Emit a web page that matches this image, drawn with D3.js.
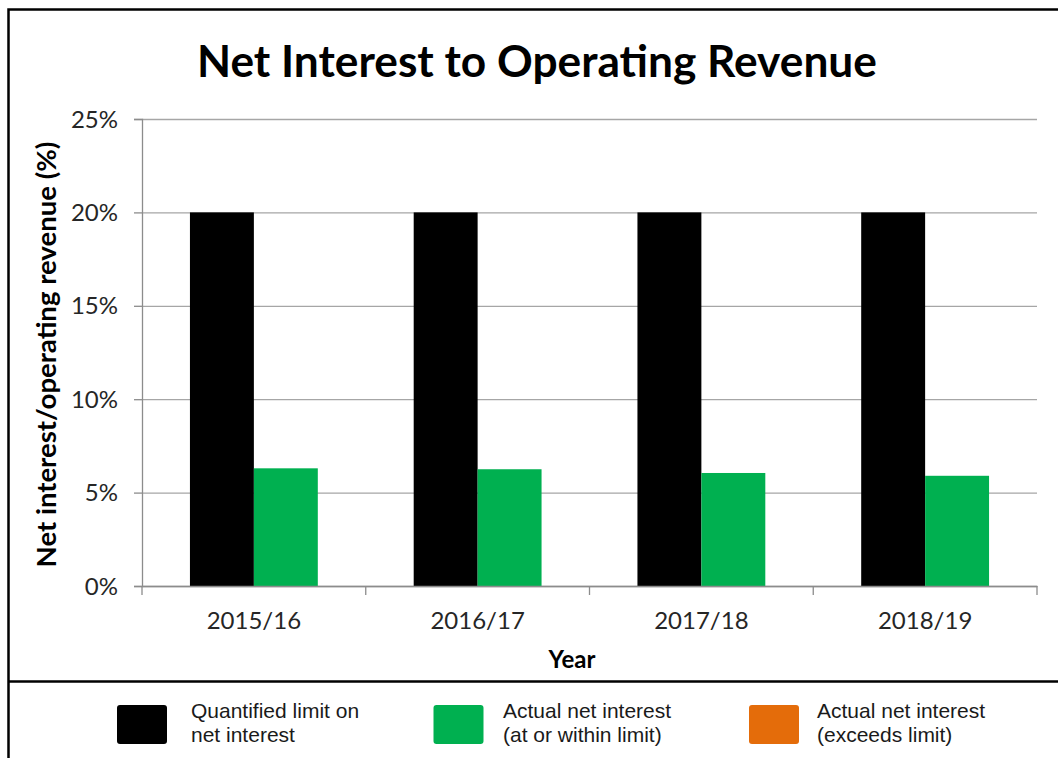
<!DOCTYPE html>
<html>
<head>
<meta charset="utf-8">
<script src="https://cdn.jsdelivr.net/npm/d3@7"></script>
<style>
  html, body { margin: 0; padding: 0; background: #fff; }
  svg { display: block; }
</style>
</head>
<body>
<svg id="chart" width="1058" height="758"></svg>
<script>
// ---- data ----
const categories = ["2015/16", "2016/17", "2017/18", "2018/19"];
const limitValues = [20, 20, 20, 20];
const actualValues = [6.3, 6.25, 6.05, 5.9];
const yTicks = [0, 5, 10, 15, 20, 25];
const legendLabels = [
  ["Quantified limit on", "net interest"],
  ["Actual net interest", "(at or within limit)"],
  ["Actual net interest", "(exceeds limit)"]
];
const legendColors = ["#000000", "#00B050", "#E46C0A"];
const titleText = "Net Interest to Operating Revenue";
const yTitle = "Net interest/operating revenue (%)";
const xTitle = "Year";

// ---- layout ----
const W = 1058, H = 758;
const plot = { left: 142, right: 1037, top: 119, bottom: 586 };
const svg = d3.select("#chart");
const calibri = "Lato, 'Open Sans', sans-serif";
const arial = "'Liberation Sans', Arial, sans-serif";

svg.append("rect").attr("width", W).attr("height", H).attr("fill", "#fff");

// scales
const x = d3.scaleBand().domain(categories).range([plot.left, plot.right]).paddingInner(0).paddingOuter(0);
const xs = d3.scaleBand().domain(["limit", "actual"]).range([0, x.bandwidth()]).paddingInner(0).paddingOuter(0.75);
const y = d3.scaleLinear().domain([0, 25]).range([plot.bottom, plot.top]);

// gridlines
const gridG = svg.append("g")
  .attr("transform", `translate(${plot.left},0)`)
  .call(d3.axisLeft(y).tickValues(yTicks).tickSize(-(plot.right - plot.left)).tickFormat(""));
gridG.select(".domain").remove();
gridG.selectAll(".tick line").attr("stroke", "#A6A6A6").attr("stroke-width", 1.3);

// bars
const rows = categories.map((c, i) => ({ cat: c, limit: limitValues[i], actual: actualValues[i] }));
const groups = svg.append("g").selectAll("g").data(rows).join("g")
  .attr("transform", d => `translate(${x(d.cat)},0)`);
groups.append("rect")
  .attr("x", xs("limit")).attr("width", xs.bandwidth())
  .attr("y", d => y(d.limit)).attr("height", d => y(0) - y(d.limit))
  .attr("fill", legendColors[0]);
groups.append("rect")
  .attr("x", xs("actual")).attr("width", xs.bandwidth())
  .attr("y", d => y(d.actual)).attr("height", d => y(0) - y(d.actual))
  .attr("fill", d => d.actual <= d.limit ? legendColors[1] : legendColors[2]);

// y axis
const yAxis = svg.append("g")
  .attr("transform", `translate(${plot.left},0)`)
  .call(d3.axisLeft(y).tickValues(yTicks).tickSize(8).tickPadding(16).tickFormat(d => d + "%"));
yAxis.select(".domain").attr("stroke", "#8C8C8C").attr("stroke-width", 1.3);
yAxis.selectAll(".tick line").attr("stroke", "#8C8C8C").attr("stroke-width", 1.3);
yAxis.selectAll(".tick text").attr("font-family", calibri).attr("font-size", 24).attr("fill", "#262626")
  .attr("dy", "0.34em");

// x axis
const xAxis = svg.append("g")
  .attr("transform", `translate(0,${plot.bottom})`)
  .call(d3.axisBottom(x).tickSize(0).tickPadding(26));
xAxis.select(".domain").attr("stroke", "#8C8C8C").attr("stroke-width", 1.3);
xAxis.selectAll(".tick text").attr("font-family", calibri).attr("font-size", 24).attr("fill", "#262626");
// category boundary ticks
const bounds = categories.map(c => x(c)).concat([x(categories[categories.length - 1]) + x.bandwidth()]);
xAxis.append("g").selectAll("line").data(bounds).join("line")
  .attr("x1", d => d).attr("x2", d => d).attr("y1", 0).attr("y2", 9)
  .attr("stroke", "#8C8C8C").attr("stroke-width", 1.3);

// fit helper
function fitText(sel, target) {
  const w = sel.node().getComputedTextLength();
  const fs = parseFloat(sel.attr("font-size"));
  sel.attr("font-size", fs * target / w);
}

// title
const t = svg.append("text").text(titleText)
  .attr("x", 537).attr("y", 77).attr("text-anchor", "middle")
  .attr("font-family", calibri).attr("font-weight", 700).attr("font-size", 44).attr("fill", "#000");
fitText(t, 680);

// y title
const yt = svg.append("text").text(yTitle)
  .attr("transform", `translate(56,${(plot.top + plot.bottom) / 2 + 2}) rotate(-90)`)
  .attr("text-anchor", "middle")
  .attr("font-family", calibri).attr("font-weight", 700).attr("font-size", 24).attr("fill", "#000");
fitText(yt, 426);

// x title
svg.append("text").text(xTitle)
  .attr("x", 572).attr("y", 668).attr("text-anchor", "middle")
  .attr("font-family", calibri).attr("font-weight", 700).attr("font-size", 24).attr("fill", "#000");

// frame
svg.append("path")
  .attr("d", `M8.5,${H} V9.5 H${W}`)
  .attr("fill", "none").attr("stroke", "#000").attr("stroke-width", 2.5);
svg.append("line").attr("x1", 8).attr("x2", W).attr("y1", 681.5).attr("y2", 681.5)
  .attr("stroke", "#000").attr("stroke-width", 2.5);

// legend
const legendSwatchX = [117, 433.5, 749];
const legendTextX = [191, 503, 817];
const leg = svg.append("g").selectAll("g").data(legendLabels).join("g")
  .attr("transform", (d, i) => `translate(0,705)`);
leg.append("rect").attr("x", (d, i) => legendSwatchX[i]).attr("width", 50).attr("height", 39).attr("rx", 3)
  .attr("fill", (d, i) => legendColors[i]);
leg.each(function (d, i) {
  d3.select(this).append("text").attr("y", 13)
    .attr("font-family", arial).attr("font-size", 21).attr("fill", "#1a1a1a")
    .selectAll("tspan").data(d).join("tspan")
    .attr("x", legendTextX[i]).attr("dy", (s, j) => j === 0 ? 0 : 24).text(s => s);
});
</script>
</body>
</html>
